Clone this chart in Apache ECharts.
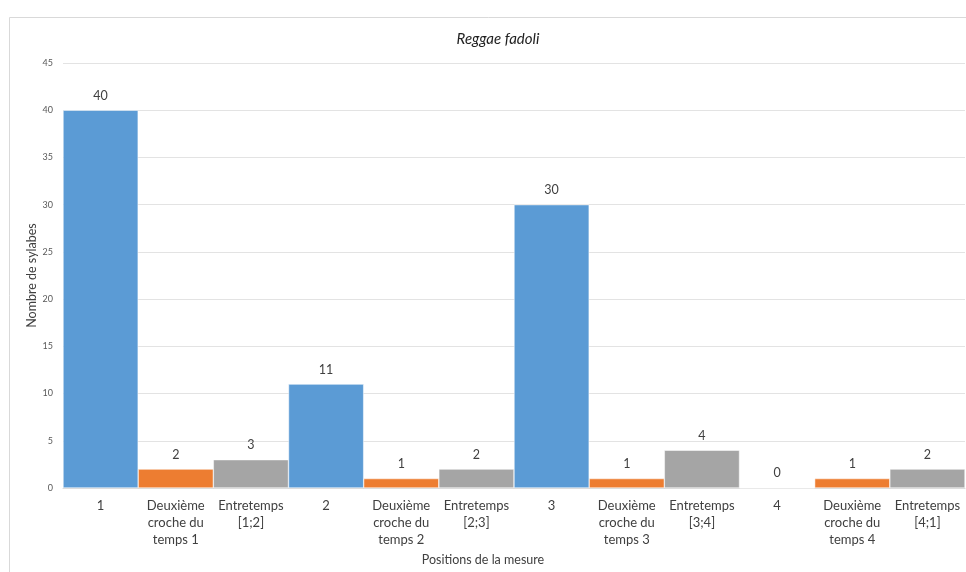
<!DOCTYPE html>
<html>
<head>
<meta charset="utf-8">
<script src="https://cdn.jsdelivr.net/npm/echarts@6/dist/echarts.min.js"></script>
<style>html,body{margin:0;padding:0;background:#fff}#c{width:966px;height:572px}</style>
</head>
<body>
<div id="c"></div>
<script>
const categories = ["1", "Deuxième\ncroche du\ntemps 1", "Entretemps\n[1;2]", "2", "Deuxième\ncroche du\ntemps 2", "Entretemps\n[2;3]", "3", "Deuxième\ncroche du\ntemps 3", "Entretemps\n[3;4]", "4", "Deuxième\ncroche du\ntemps 4", "Entretemps\n[4;1]"];
const values = [40, 2, 3, 11, 1, 2, 30, 1, 4, 0, 1, 2];
const kinds = ["temps", "croche", "entre", "temps", "croche", "entre", "temps", "croche", "entre", "temps", "croche", "entre"];
const yTicks = [0, 5, 10, 15, 20, 25, 30, 35, 40, 45];
const colorByKind = { temps: "#5B9BD5", croche: "#ED7D31", entre: "#A5A5A5" };
const FONT = "Lato, 'Open Sans', sans-serif";

const chart = echarts.init(document.getElementById('c'));
chart.setOption({
  animation: false,
  backgroundColor: '#fff',
  graphic: [{
    type: 'rect', left: 7, top: 15, silent: true,
    shape: { width: 980, height: 580 },
    style: { fill: 'none', stroke: '#d9d9d9', lineWidth: 1 }
  }],
  title: [{
    text: 'Reggae fadoli',
    left: 493, top: 27, textAlign: 'center',
    textStyle: { fontFamily: FONT, fontStyle: 'italic', fontWeight: 'normal', fontSize: 15, color: '#222' }
  }, {
    text: 'Positions de la mesure',
    left: 478, top: 548, textAlign: 'center',
    textStyle: { fontFamily: FONT, fontWeight: 'normal', fontSize: 12.5, color: '#404040' }
  }],
  grid: { left: 63, right: 1, top: 63, bottom: 84, containLabel: false },
  xAxis: {
    type: 'category', data: categories,
    axisLine: { lineStyle: { color: '#d9d9d9' } },
    axisTick: { show: false },
    axisLabel: { interval: 0, color: '#404040', fontFamily: FONT, fontSize: 13, lineHeight: 17, margin: 9 }
  },
  yAxis: {
    type: 'value', min: yTicks[0], max: yTicks[yTicks.length - 1], interval: 5,
    name: 'Nombre de sylabes', nameLocation: 'middle', nameGap: 25, nameMoveOverlap: false,
    nameTextStyle: { fontFamily: FONT, fontSize: 12.5, color: '#404040' },
    axisLine: { show: false }, axisTick: { show: false },
    axisLabel: { color: '#595959', fontFamily: FONT, fontSize: 9, margin: 10 },
    splitLine: { lineStyle: { color: '#e3e3e3' } }
  },
  series: [{
    type: 'bar',
    barCategoryGap: '0%',
    data: values.map((v, i) => ({ value: v, itemStyle: { color: colorByKind[kinds[i]] } })),
    itemStyle: { borderColor: '#ffffff', borderWidth: 0.5 },
    label: { show: true, position: 'top', distance: 8, color: '#404040', fontFamily: FONT, fontSize: 12.5 }
  }]
});
</script>
</body>
</html>
